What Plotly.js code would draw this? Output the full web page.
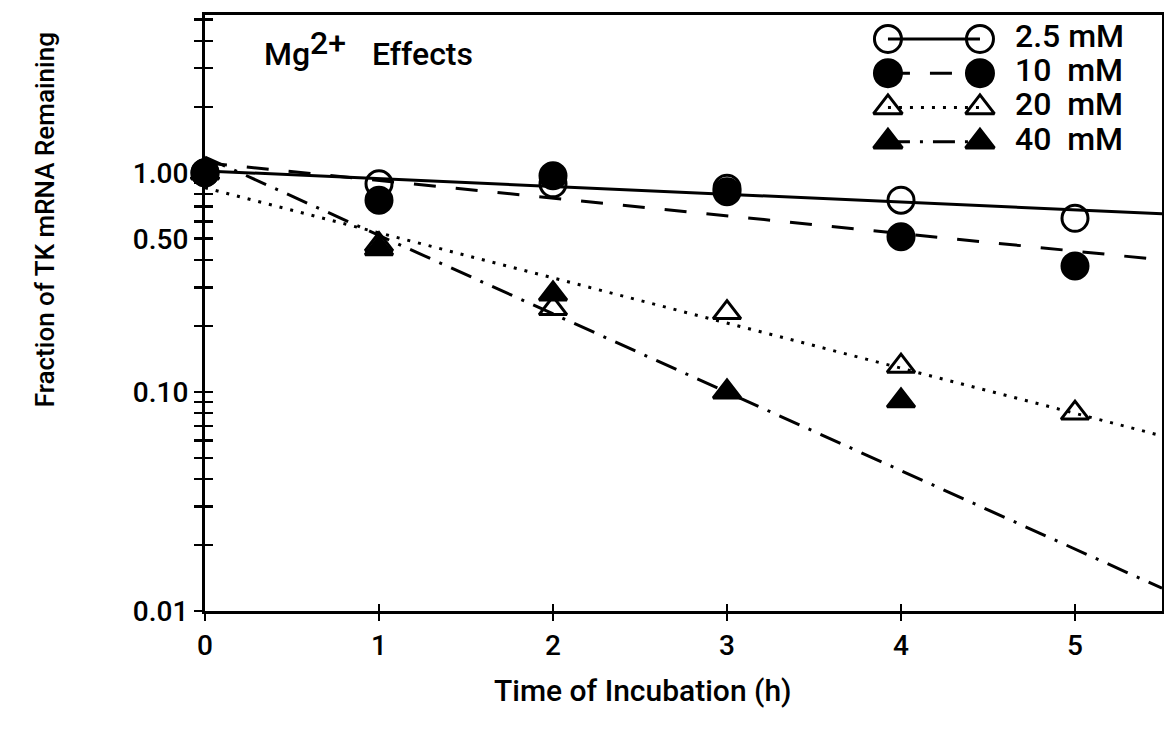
<!DOCTYPE html>
<html>
<head>
<meta charset="utf-8">
<script src="https://cdn.plot.ly/plotly-3.0.1.min.js"></script>
<style>html,body{margin:0;padding:0;background:#fff;}</style>
</head>
<body>
<div id="chart" style="width:1164px;height:739px;"></div>
<script>
// ---- data ----
const time = [0, 1, 2, 3, 4, 5];
const mg25 = [1.0, 0.89, 0.89, 0.85, 0.75, 0.62];
const mg10 = [1.0, 0.75, 0.97, 0.82, 0.51, 0.375];
const mg20 = [1.0, 0.47, 0.24, 0.23, 0.131, 0.080];
const mg40 = [1.0, 0.45, 0.28, 0.10, 0.091, 0.0098];
// fitted decay lines (end values at x = 0 and x = 5.5)
const fitX = [0, 5.5];
const fit25 = [1.02, 0.65];
const fit10 = [1.11, 0.40];
const fit20 = [0.855, 0.063];
const fit40 = [1.18, 0.0127];
const seriesNames = ['2.5 mM', '10\u00a0\u00a0mM', '20\u00a0\u00a0mM', '40\u00a0\u00a0mM'];
const yMajorVals = [0.01, 0.1, 0.5, 1];
const yMajorText = ['0.01', '0.10', '0.50', '1.00'];
const yMinorVals = [0.02,0.03,0.04,0.05,0.06,0.07,0.08,0.09,0.2,0.3,0.4,0.6,0.7,0.8,0.9,2,3,4,5];
const xTickVals = [0, 1, 2, 3, 4, 5];

const FONT = 'Roboto, sans-serif';
const W = 500;
const LW = 3;
const styles = [
  {sym: 'circle-open', dash: 'solid', size: 26},
  {sym: 'circle', dash: '22px,20px', size: 26},
  {sym: 'triangle-up-open', dash: '3px,8px', size: 24},
  {sym: 'triangle-up', dash: '22px,10px,3px,10px', size: 24}
];
const vals = [mg25, mg10, mg20, mg40];
const fits = [fit25, fit10, fit20, fit40];

const traces = [];
fits.forEach((f, i) => {
  traces.push({x: fitX, y: f, mode: 'lines', showlegend: false, hoverinfo: 'skip',
    line: {color: '#000', width: LW, dash: styles[i].dash}});
});
[0, 2, 1, 3].forEach(i => {
  traces.push({x: time, y: vals[i], mode: 'markers', showlegend: false, cliponaxis: false,
    marker: {symbol: styles[i].sym, size: styles[i].size, color: '#000', line: {color: '#000', width: LW}}});
});

// key in the style of the original (marker — line — marker, then label), on its own hidden axes
const keySample = [0, 1];
const keyLabelAt = 1.38;
seriesNames.forEach((n, i) => {
  traces.push({x: keySample, y: [i, i], xaxis: 'x3', yaxis: 'y3', mode: 'lines+markers',
    showlegend: false, hoverinfo: 'skip', cliponaxis: false,
    line: {color: '#000', width: LW, dash: styles[i].dash},
    marker: {symbol: styles[i].sym, size: styles[i].size + 1, color: '#000', line: {color: '#000', width: LW}}});
});
traces.push({x: seriesNames.map(() => keyLabelAt), y: seriesNames.map((n, i) => i), text: seriesNames,
  xaxis: 'x3', yaxis: 'y3', mode: 'text', textposition: 'middle right', showlegend: false,
  hoverinfo: 'skip', cliponaxis: false,
  textfont: {family: FONT, size: 32, color: '#000', weight: W}});

traces.push({x: [null], y: [null], xaxis: 'x2', yaxis: 'y2', mode: 'markers', showlegend: false, hoverinfo: 'skip'});

const tickStyle = {ticklen: 8, tickwidth: 2.5, tickcolor: '#000'};
const titleFont = {family: FONT, size: 32, color: '#000', weight: W};

const layout = {
  width: 1164, height: 739,
  margin: {l: 205, r: 2, t: 15, b: 128},
  paper_bgcolor: '#fff', plot_bgcolor: '#fff',
  font: {family: FONT, color: '#000', size: 26, weight: W},
  showlegend: false,
  xaxis: Object.assign({range: [0, 5.5], tickvals: xTickVals, ticks: 'outside',
    showline: true, linecolor: '#000', linewidth: 3, mirror: true,
    showgrid: false, zeroline: false, tickfont: {size: 28, weight: W}, automargin: false}, tickStyle, {ticklen: 7}),
  yaxis: Object.assign({type: 'log', range: [-2, 0.72], tickvals: yMajorVals, ticktext: yMajorText, ticks: 'outside',
    showline: true, linecolor: '#000', linewidth: 3,
    mirror: true, showgrid: false, zeroline: false, tickfont: {size: 28, weight: W}, automargin: false,
    minor: {tickvals: yMinorVals, ticks: 'outside', ticklen: 8, tickwidth: 2.5, tickcolor: '#000', showgrid: false}}, tickStyle),
  xaxis2: Object.assign({overlaying: 'x', range: [0, 5.5], tickvals: xTickVals, ticks: 'inside',
    showticklabels: false, showline: false, showgrid: false, zeroline: false}, tickStyle, {ticklen: 7}),
  yaxis2: Object.assign({overlaying: 'y', type: 'log', range: [-2, 0.72], tickvals: yMajorVals, ticks: 'inside',
    showticklabels: false, showline: false, showgrid: false, zeroline: false,
    minor: {tickvals: yMinorVals, ticks: 'inside', ticklen: 8, tickwidth: 2.5, tickcolor: '#000', showgrid: false}}, tickStyle),
  xaxis3: {domain: [0.6844, 1.0], range: [-0.304, 2.978], visible: false, anchor: 'y3'},
  yaxis3: {domain: [0.757, 1.0], range: [3.53, -0.70], visible: false, anchor: 'x3'},
  annotations: [
    {text: 'Mg', xref: 'paper', yref: 'paper', x: 0.0596, y: 0.9346, xanchor: 'left', yanchor: 'middle',
     showarrow: false, font: titleFont},
    {text: '2+', xref: 'paper', yref: 'paper', x: 0.1076, y: 0.953, xanchor: 'left', yanchor: 'middle',
     showarrow: false, font: titleFont},
    {text: 'Effects', xref: 'paper', yref: 'paper', x: 0.1724, y: 0.9346, xanchor: 'left', yanchor: 'middle',
     showarrow: false, font: titleFont},
    {text: 'Fraction of TK mRNA Remaining', xref: 'paper', yref: 'paper', x: -0.167, y: 0.656,
     xanchor: 'center', yanchor: 'middle', textangle: -90, showarrow: false,
     font: {family: FONT, size: 26, color: '#000', weight: W}},
    {text: 'Time of Incubation (h)', xref: 'paper', yref: 'paper', x: 0.458, y: -0.1326,
     xanchor: 'center', yanchor: 'middle', showarrow: false, font: {family: FONT, size: 30, color: '#000', weight: W}}
  ]
};

Plotly.newPlot('chart', traces, layout, {displayModeBar: false, staticPlot: true});
</script>
</body>
</html>
